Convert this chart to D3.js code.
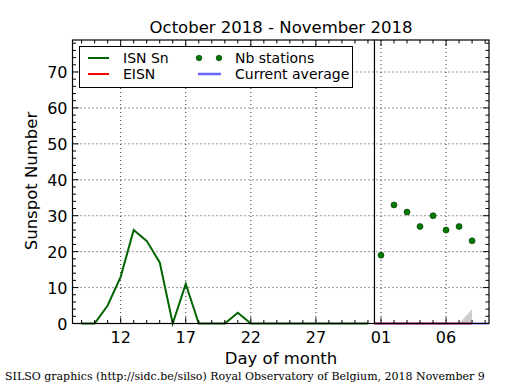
<!DOCTYPE html>
<html><head><meta charset="utf-8">
<script src="https://cdn.jsdelivr.net/npm/d3@7/dist/d3.min.js"></script>
<style>body{margin:0;background:#fff;} svg{display:block;font-family:"DejaVu Sans",sans-serif;}</style>
</head><body>
<script>
// Day index: October days 1..31, November n -> 31+n
const isnDays = [9,10,11,12,13,14,15,16,17,18,19,20,21,22,23,24,25,26,27,28,29,30,31];
const isnValues = [0,0,5,13,26,23,17,0,11,0,0,0,3,0,0,0,0,0,0,0,0,0,0];
const stationDays = [32,33,34,35,36,37,38,39];
const stationValues = [19,33,31,27,30,26,27,23];
const eisnDays = [31.5,39];
const eisnValues = [0,0];
const avgDays = [31.5,40.3];
const avgValues = [0,0];
const greyDays = [38,39,39];
const greyValues = [0,4,0];
const monthBoundary = 31.5;
const xTickDays = [12,17,22,27,32,37];
const xTickLabels = ["12","17","22","27","01","06"];
const yTicks = [0,10,20,30,40,50,60,70];

const W=515,H=390;
const m={l:72.5,r:489,t:40,b:323.5};
const svg=d3.select("body").append("svg").attr("width",W).attr("height",H);
const x=d3.scaleLinear().domain([8.3,40.3]).range([m.l,m.r]);
const y=d3.scaleLinear().domain([0,78.9]).range([m.b,m.t]);

// grid
const g=svg.append("g");
xTickDays.forEach(d=>g.append("line").attr("x1",x(d)).attr("x2",x(d)).attr("y1",m.t).attr("y2",m.b)
  .attr("stroke","#000").attr("stroke-width",0.8).attr("stroke-dasharray","1,3"));
yTicks.forEach(v=>g.append("line").attr("x1",m.l).attr("x2",m.r).attr("y1",y(v)).attr("y2",y(v))
  .attr("stroke","#000").attr("stroke-width",0.8).attr("stroke-dasharray","1,3"));

// grey area
svg.append("path").datum(greyDays.map((d,i)=>[d,greyValues[i]]))
  .attr("d",d3.line().x(d=>x(d[0])).y(d=>y(d[1]))).attr("fill","#cccccc").attr("stroke","none");

// ISN line
const line=d3.line().x(d=>x(d[0])).y(d=>y(d[1]));
svg.append("path").datum(isnDays.map((d,i)=>[d,isnValues[i]])).attr("d",line)
  .attr("fill","none").attr("stroke","#006400").attr("stroke-width",2);
svg.append("path").datum(eisnDays.map((d,i)=>[d,eisnValues[i]])).attr("d",line)
  .attr("fill","none").attr("stroke","#ff0000").attr("stroke-width",2);
svg.append("path").datum(avgDays.map((d,i)=>[d,avgValues[i]])).attr("d",line)
  .attr("fill","none").attr("stroke","#6666ff").attr("stroke-width",2).attr("opacity",0.7);

// vertical boundary
svg.append("line").attr("x1",x(monthBoundary)).attr("x2",x(monthBoundary)).attr("y1",m.t).attr("y2",m.b)
  .attr("stroke","#000").attr("stroke-width",1.2);

// station dots
svg.selectAll("circle.st").data(stationDays.map((d,i)=>[d,stationValues[i]])).enter().append("circle")
  .attr("cx",d=>x(d[0])).attr("cy",d=>y(d[1])).attr("r",3).attr("fill","#007a00").attr("stroke","#003300").attr("stroke-width",0.6);

// frame
svg.append("rect").attr("x",m.l).attr("y",m.t).attr("width",m.r-m.l).attr("height",m.b-m.t)
  .attr("fill","none").attr("stroke","#000").attr("stroke-width",1.2);

// ticks inward
const tk=svg.append("g").attr("stroke","#000").attr("stroke-width",1);
for(let d=9; d<=40; d++){
  const major=xTickDays.includes(d); const L=major?6:3.5;
  tk.append("line").attr("x1",x(d)).attr("x2",x(d)).attr("y1",m.b).attr("y2",m.b-L);
  tk.append("line").attr("x1",x(d)).attr("x2",x(d)).attr("y1",m.t).attr("y2",m.t+L);
}
for(let v=0; v<=78; v+=2){
  const major=v%10===0; const L=major?6:3.5;
  tk.append("line").attr("x1",m.l).attr("x2",m.l+L).attr("y1",y(v)).attr("y2",y(v));
  tk.append("line").attr("x1",m.r).attr("x2",m.r-L).attr("y1",y(v)).attr("y2",y(v));
}

// tick labels
xTickDays.forEach((d,i)=>svg.append("text").attr("x",x(d)).attr("y",m.b+19).attr("text-anchor","middle")
  .attr("font-size",16).text(xTickLabels[i]));
yTicks.forEach(v=>svg.append("text").attr("x",m.l-5).attr("y",y(v)+6).attr("text-anchor","end")
  .attr("font-size",16).text(v));

// labels
svg.append("text").attr("x",281).attr("y",33).attr("text-anchor","middle").attr("font-size",16.5).text("October 2018 - November 2018");
svg.append("text").attr("x",281).attr("y",364).attr("text-anchor","middle").attr("font-size",16.5).text("Day of month");
svg.append("text").attr("transform","translate(37,181) rotate(-90)").attr("text-anchor","middle").attr("font-size",16.5).text("Sunspot Number");
svg.append("text").attr("x",5).attr("y",380).attr("font-family","'DejaVu Serif',serif").attr("font-size",11)
  .text("SILSO graphics (http://sidc.be/silso) Royal Observatory of Belgium, 2018 November 9");

// legend
const lg=svg.append("g");
lg.append("rect").attr("x",79.5).attr("y",46.5).attr("width",273).attr("height",41).attr("fill","#fff").attr("stroke","#000").attr("stroke-width",1);
lg.append("line").attr("x1",88).attr("x2",109).attr("y1",58).attr("y2",58).attr("stroke","#006400").attr("stroke-width",2);
lg.append("text").attr("x",123).attr("y",63).attr("font-size",14).text("ISN Sn");
lg.append("line").attr("x1",88).attr("x2",109).attr("y1",74).attr("y2",74).attr("stroke","#ff0000").attr("stroke-width",2);
lg.append("text").attr("x",123).attr("y",79).attr("font-size",14).text("EISN");
[199,219].forEach(cx=>lg.append("circle").attr("cx",cx).attr("cy",58).attr("r",2.8).attr("fill","#007a00").attr("stroke","#003300").attr("stroke-width",0.6));
lg.append("text").attr("x",235).attr("y",63).attr("font-size",14).text("Nb stations");
lg.append("line").attr("x1",198).attr("x2",221).attr("y1",74).attr("y2",74).attr("stroke","#6666ff").attr("stroke-width",2.5);
lg.append("text").attr("x",235).attr("y",79).attr("font-size",14).text("Current average");
</script>
</body></html>
